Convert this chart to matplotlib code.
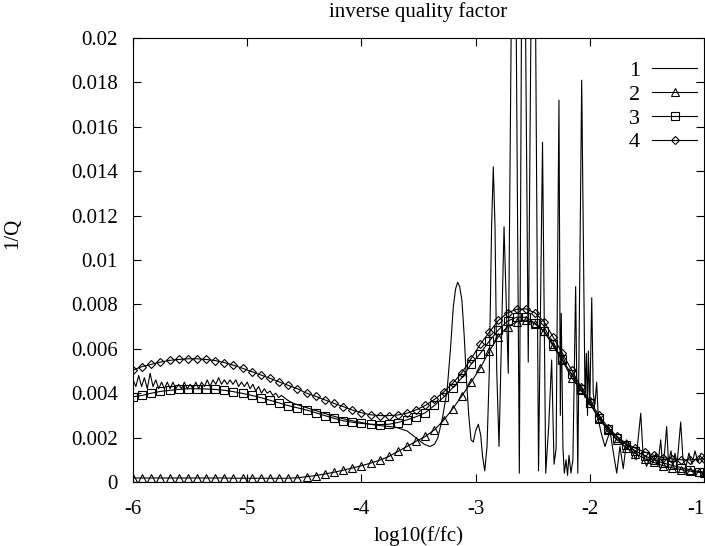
import matplotlib
matplotlib.use("Agg")
import matplotlib.pyplot as plt

plt.rcParams['font.family'] = ['Liberation Serif', 'DejaVu Serif']

# ---------------- data ----------------
grid_x = [-6.00, -5.92, -5.84, -5.76, -5.68, -5.60, -5.52, -5.44, -5.36, -5.28,
          -5.20, -5.12, -5.04, -4.96, -4.88, -4.80, -4.72, -4.64, -4.56, -4.48,
          -4.40, -4.32, -4.24, -4.16, -4.08, -4.00, -3.92, -3.84, -3.76, -3.68,
          -3.60, -3.52, -3.44, -3.36, -3.28, -3.20, -3.12, -3.04, -2.96, -2.88,
          -2.80, -2.72, -2.64, -2.56, -2.48, -2.40, -2.32, -2.24, -2.16, -2.08,
          -2.00, -1.92, -1.84, -1.76, -1.68, -1.60, -1.52, -1.44, -1.36, -1.28,
          -1.20, -1.12, -1.04, -1.00]

s2_y = [0.00018, 0.00018, 0.00018, 0.00018, 0.00018, 0.00018, 0.00018, 0.00018, 0.00018, 0.00018,
        0.00018, 0.00017, 0.00017, 0.00017, 0.00017, 0.00017, 0.00017, 0.00017, 0.00019, 0.00024,
        0.00029, 0.00036, 0.00044, 0.00053, 0.00063, 0.00073, 0.00085, 0.00098, 0.00115, 0.00138,
        0.00160, 0.00184, 0.00205, 0.00235, 0.00278, 0.00330, 0.00388, 0.00450, 0.00512, 0.00590,
        0.00655, 0.00700, 0.00722, 0.00730, 0.00712, 0.00678, 0.00612, 0.00548, 0.00470, 0.00415,
        0.00355, 0.00285, 0.00232, 0.00190, 0.00155, 0.00128, 0.00105, 0.00088, 0.00074, 0.00064,
        0.00056, 0.00049, 0.00043, 0.00041]

s3_y = [0.00384, 0.00390, 0.00400, 0.00408, 0.00413, 0.00417, 0.00420, 0.00420, 0.00419, 0.00417,
        0.00413, 0.00407, 0.00399, 0.00390, 0.00380, 0.00368, 0.00356, 0.00344, 0.00334, 0.00324,
        0.00312, 0.00299, 0.00287, 0.00276, 0.00269, 0.00264, 0.00260, 0.00259, 0.00260, 0.00268,
        0.00280, 0.00294, 0.00312, 0.00345, 0.00382, 0.00425, 0.00470, 0.00530, 0.00578, 0.00635,
        0.00685, 0.00725, 0.00742, 0.00742, 0.00715, 0.00680, 0.00620, 0.00552, 0.00485, 0.00420,
        0.00355, 0.00290, 0.00240, 0.00200, 0.00168, 0.00140, 0.00118, 0.00100, 0.00086, 0.00075,
        0.00065, 0.00055, 0.00047, 0.00045]

s4_y = [0.00504, 0.00520, 0.00530, 0.00540, 0.00548, 0.00552, 0.00555, 0.00555, 0.00552, 0.00547,
        0.00538, 0.00526, 0.00512, 0.00497, 0.00482, 0.00467, 0.00451, 0.00435, 0.00420, 0.00400,
        0.00386, 0.00370, 0.00354, 0.00340, 0.00324, 0.00312, 0.00303, 0.00299, 0.00299, 0.00302,
        0.00310, 0.00325, 0.00345, 0.00372, 0.00405, 0.00445, 0.00492, 0.00555, 0.00620, 0.00675,
        0.00728, 0.00762, 0.00778, 0.00780, 0.00762, 0.00722, 0.00652, 0.00580, 0.00505, 0.00430,
        0.00365, 0.00300, 0.00245, 0.00205, 0.00172, 0.00152, 0.00135, 0.00120, 0.00110, 0.00104,
        0.00100, 0.00100, 0.00103, 0.00105]

c1_x = [-6.000, -5.975, -5.950, -5.925, -5.900, -5.875, -5.850, -5.825, -5.800, -5.775,
        -5.750, -5.725, -5.700, -5.675, -5.650, -5.625, -5.600, -5.575, -5.550, -5.525,
        -5.500, -5.475, -5.450, -5.425, -5.400, -5.375, -5.350, -5.325, -5.300, -5.275,
        -5.250, -5.225, -5.200, -5.175, -5.150, -5.125, -5.100, -5.075, -5.050, -5.025,
        -5.000, -4.975, -4.950, -4.925, -4.900, -4.875, -4.850, -4.825, -4.800, -4.775,
        -4.750, -4.725, -4.700,
        -4.65, -4.60, -4.50, -4.40, -4.30, -4.20, -4.10, -4.00, -3.90, -3.80,
        -3.70, -3.60, -3.55, -3.50, -3.45, -3.40, -3.36, -3.33, -3.29, -3.25,
        -3.22, -3.195, -3.175, -3.157, -3.14, -3.12, -3.10, -3.08, -3.06, -3.04,
        -3.02, -3.00, -2.976, -2.955, -2.94, -2.92, -2.90, -2.88, -2.86, -2.845,
        -2.83, -2.815, -2.795, -2.751, -2.714, -2.664, -2.617, -2.585, -2.539, -2.493,
        -2.449, -2.414, -2.386, -2.36, -2.334, -2.313, -2.295, -2.270, -2.258, -2.250,
        -2.235, -2.223, -2.208, -2.195, -2.182, -2.165, -2.148, -2.124, -2.105, -2.071,
        -2.042, -2.030, -2.020, -2.013, -2.000, -1.983, -1.970, -1.955, -1.940, -1.925,
        -1.900, -1.867, -1.823, -1.790, -1.764, -1.736, -1.707, -1.677, -1.633, -1.595,
        -1.554, -1.532, -1.502, -1.473, -1.447, -1.420, -1.403, -1.379, -1.364, -1.346,
        -1.327, -1.311, -1.289, -1.271, -1.254, -1.236, -1.204, -1.184, -1.158, -1.132,
        -1.105, -1.079, -1.053, -1.026, -1.000]

c1_y = [0.0046, 0.0043, 0.0048, 0.0043, 0.0047, 0.0042, 0.0049, 0.0043, 0.0046, 0.0042,
        0.0045, 0.0042, 0.0045, 0.0042, 0.0045, 0.0042, 0.0044, 0.0042, 0.0045, 0.0042,
        0.0044, 0.0042, 0.0045, 0.0042, 0.0045, 0.0043, 0.0046, 0.0043, 0.0046, 0.0044,
        0.0047, 0.0044, 0.0046, 0.0044, 0.0046, 0.0044, 0.0046, 0.0043, 0.0045, 0.0043,
        0.0045, 0.0042, 0.0044, 0.0041, 0.0043, 0.0040, 0.0042, 0.0040, 0.0041, 0.0039,
        0.0040, 0.0038, 0.0039,
        0.0037, 0.00355, 0.00338, 0.00322, 0.00305, 0.0029, 0.00278, 0.00268, 0.00258, 0.00252,
        0.00247, 0.0023, 0.0021, 0.0019, 0.0017, 0.0016, 0.0017, 0.0020, 0.0029, 0.0041,
        0.0060, 0.0079, 0.0087, 0.0090, 0.0088, 0.0082, 0.0066, 0.0046, 0.0030, 0.0019,
        0.0018, 0.0023, 0.0026, 0.0021, 0.0012, 0.0005, 0.0016, 0.0050, 0.0115, 0.0142,
        0.0115, 0.0050, 0.0016, 0.0115, 0.0049, 0.035, 0.0004, 0.035, 0.0054, 0.035,
        0.0005, 0.0153, 0.0004, 0.0025, 0.0055, 0.0008, 0.0015, 0.0172, 0.0030, 0.0076,
        0.0015, 0.0004, 0.0010, 0.0003, 0.0012, 0.0004, 0.0010, 0.0088, 0.0004, 0.0181,
        0.0038, 0.0058, 0.0030, 0.0059, 0.0035, 0.0083, 0.0040, 0.0035, 0.0045, 0.0028,
        0.0022, 0.0016, 0.0023, 0.0012, 0.0004, 0.0016, 0.0006, 0.0019, 0.0014, 0.0010,
        0.0031, 0.0011, 0.0007, 0.0012, 0.0009, 0.0013, 0.0008, 0.0019, 0.0008, 0.0013,
        0.0025, 0.0009, 0.0014, 0.0007, 0.0013, 0.0008, 0.0027, 0.0010, 0.0007, 0.0013,
        0.0008, 0.0014, 0.0009, 0.0013, 0.0012]

x_ticks = [-6, -5, -4, -3, -2, -1]
x_tick_labels = ['-6', '-5', '-4', '-3', '-2', '-1']
y_ticks = [0, 0.002, 0.004, 0.006, 0.008, 0.01, 0.012, 0.014, 0.016, 0.018, 0.02]
y_tick_labels = ['0', '0.002', '0.004', '0.006', '0.008', '0.01', '0.012', '0.014',
                 '0.016', '0.018', '0.02']
labels = ['1', '2', '3', '4']

# ---------------- figure ----------------
W, H = 705, 546
fig = plt.figure(figsize=(W / 100, H / 100), dpi=100)
AX_L, AX_R, AX_T, AX_B = 133, 704, 38, 482
ax = fig.add_axes([AX_L / W, (H - AX_B) / H, (AX_R - AX_L) / W, (AX_B - AX_T) / H])

lw = 0.8
ms = 5.5
ax.plot(c1_x, c1_y, color='black', lw=lw, label=labels[0])
ax.plot(grid_x, s2_y, color='black', lw=lw, marker='^', ms=ms, mfc='none', mew=0.8,
        label=labels[1])
ax.plot(grid_x, s3_y, color='black', lw=lw, marker='s', ms=ms, mfc='none', mew=0.8,
        label=labels[2])
ax.plot(grid_x, s4_y, color='black', lw=lw, marker='D', ms=ms * 0.8, mfc='none', mew=0.8,
        label=labels[3])

ax.set_xlim(-6, -1)
ax.set_ylim(0, 0.02)
ax.set_xticks(x_ticks)
ax.set_xticklabels(x_tick_labels)
ax.set_yticks(y_ticks)
ax.set_yticklabels(y_tick_labels)
ax.tick_params(direction='in', top=True, right=True, length=6, width=0.8,
               labelsize=15, color='black')
ax.tick_params(axis='x', pad=13)
ax.tick_params(axis='y', pad=11)
ax.get_xticklabels()[-1].set_horizontalalignment('right')
for sp in ax.spines.values():
    sp.set_linewidth(0.8)

ax.set_title('inverse quality factor', fontsize=15, pad=15)
ax.set_xlabel('log10(f/fc)', fontsize=15, labelpad=5)
ax.set_ylabel('1/Q', fontsize=15)
ax.yaxis.set_label_coords((22 - AX_L) / (AX_R - AX_L), (AX_B - 233) / (AX_B - AX_T))

leg = ax.legend(loc='upper right', frameon=False, markerfirst=False, fontsize=16,
                handlelength=2.0, handletextpad=0.55, labelspacing=0.15,
                borderaxespad=0.6, numpoints=1,
                bbox_to_anchor=(1.0 + 15 / (AX_R - AX_L), 1.0))

fig.savefig('out.png', dpi=100)
